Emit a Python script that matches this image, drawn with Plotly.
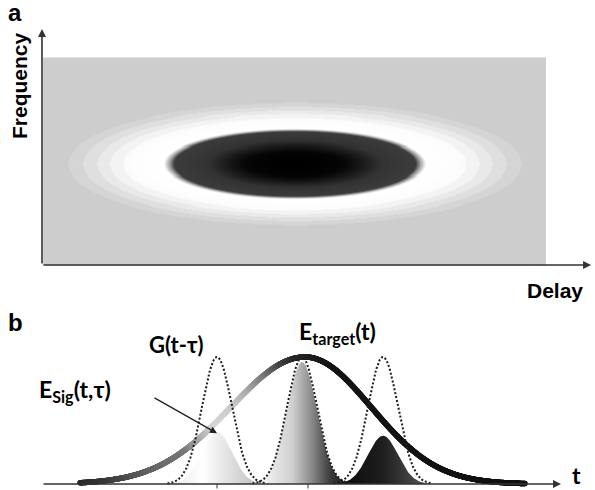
import numpy as np
import plotly.graph_objects as go

# ---------------- panel a: FROG-type spectrogram ----------------
delay = np.arange(-250, 251, 2)          # delay axis (arb. units)
freq = np.arange(-100, 101, 1)           # frequency axis (arb. units)
trace_center = (0.0, -2.0)               # (delay, frequency) of the trace maximum
trace_semi_axes = (124.0, 32.4)          # 1/e widths along delay and frequency

# ---------------- panel b: gating of the target field ----------------
target_center = 0.0
target_sigma = (74.0, 66.0)              # leading / trailing widths of E_target
gate_delays = [-88.0, -3.0, 78.0]        # positions tau of the gate G(t - tau)
gate_sigma = 15.0
sig_peaks = [0.41, 0.96, 0.38]           # peak amplitude of E_sig at each tau
tick_t = [-88.0, 3.0]

# grey level of the E_target trace along t
shade_t = [-225, -195, -155, -120, -105, -90, -70, -55, -40, -25, -10, 25, 220]
shade_gray = [40, 60, 100, 120, 170, 215, 200, 165, 120, 70, 40, 22, 18]

sig_fill_scales = [
    [[0, "#e6e6e6"], [0.35, "#ffffff"], [1, "#b8b8b8"]],
    [[0, "#ffffff"], [0.4, "#cfcfcf"], [0.6, "#8a8a8a"], [0.8, "#3a3a3a"], [1, "#151515"]],
    [[0, "#080808"], [0.5, "#1e1e1e"], [1, "#5c5c5c"]],
]

# ---------- computed fields ----------
D, F = np.meshgrid(delay, freq)
r2 = ((D - trace_center[0]) / trace_semi_axes[0]) ** 2 + ((F - trace_center[1]) / trace_semi_axes[1]) ** 2
intensity = np.exp(-r2)

frog_scale = [
    [0.0, "#cdcdcd"], [0.036, "#cdcdcd"],
    [0.036, "#d5d5d5"], [0.055, "#d5d5d5"],
    [0.055, "#dfdfdf"], [0.08, "#dfdfdf"],
    [0.08, "#e9e9e9"], [0.11, "#e9e9e9"],
    [0.11, "#f3f3f3"], [0.15, "#f3f3f3"],
    [0.15, "#fbfbfb"], [0.19, "#fdfdfd"],
    [0.33, "#ffffff"], [0.365, "#9a9a9a"], [0.39, "#3c3c3c"],
    [0.61, "#333333"], [0.86, "#050505"], [1.0, "#000000"],
]


def target(tt):
    s = np.where(tt < target_center, target_sigma[0], target_sigma[1])
    return np.exp(-((tt - target_center) ** 2) / (2 * s ** 2))


def gate(tt, tau):
    return np.exp(-((tt - tau) ** 2) / (2 * gate_sigma ** 2))


fig = go.Figure()

fig.add_trace(go.Heatmap(
    z=intensity, x=delay, y=freq, colorscale=frog_scale, zmin=0, zmax=1,
    zsmooth="best", showscale=False, hoverinfo="skip", xaxis="x", yaxis="y",
))

# E_sig(t, tau): gated pieces of the target field
for tau, pk, cs in zip(gate_delays, sig_peaks, sig_fill_scales):
    ts = np.linspace(tau - 3.2 * gate_sigma, tau + 3.2 * gate_sigma, 200)
    fig.add_trace(go.Scatter(
        x=ts, y=pk * gate(ts, tau), mode="lines", fill="tozeroy",
        line=dict(width=0, color="rgba(0,0,0,0)"),
        fillgradient=dict(type="horizontal", colorscale=cs),
        xaxis="x2", yaxis="y2", hoverinfo="skip", showlegend=False,
    ))

# E_target(t) drawn as a thick trace with varying grey
t = np.linspace(-225, 220, 1400)
g = np.interp(t, shade_t, shade_gray)
cols = [f"rgb({int(v)},{int(v)},{int(v)})" for v in g]
fig.add_trace(go.Scatter(
    x=t, y=target(t), mode="markers",
    marker=dict(size=5.5, color=cols, line=dict(width=0)),
    xaxis="x2", yaxis="y2", hoverinfo="skip", showlegend=False,
))

# gate pulses G(t - tau)
for tau in gate_delays:
    ts = np.linspace(tau - 3.3 * gate_sigma, tau + 3.3 * gate_sigma, 300)
    fig.add_trace(go.Scatter(
        x=ts, y=gate(ts, tau), mode="lines",
        line=dict(color="#1e1e1e", width=2, dash="2px,2px"),
        xaxis="x2", yaxis="y2", hoverinfo="skip", showlegend=False,
    ))

axis_off = dict(visible=False, showgrid=False, zeroline=False)
fig.update_layout(
    width=595, height=490,
    margin=dict(l=0, r=0, t=0, b=0),
    paper_bgcolor="white", plot_bgcolor="white",
    showlegend=False,
    xaxis=dict(domain=[0, 1], range=[-293.9, 299.9], **axis_off),
    yaxis=dict(domain=[0.4388, 1.0], range=[-109.66, 156.04], **axis_off),
    xaxis2=dict(domain=[0, 1], range=[-305, 290], anchor="y2", **axis_off),
    yaxis2=dict(domain=[0, 0.3878], range=[-0.0472, 1.4488], anchor="x2", **axis_off),
)

arrow = dict(showarrow=True, arrowhead=2, arrowsize=1, arrowwidth=1.6,
             arrowcolor="#333333", text="")
annotations = [
    # panel a axes
    dict(x=-252, y=128, ax=-252, ay=-100, xref="x", yref="y", axref="x", ayref="y", **arrow),
    dict(x=296, y=-100, ax=-252, ay=-100, xref="x", yref="y", axref="x", ayref="y", **arrow),
    # panel b time axis
    dict(x=256, y=0, ax=-263, ay=0, xref="x2", yref="y2", axref="x2", ayref="y2", **arrow),
    # pointer to E_sig
    dict(x=-88, y=0.40, ax=-152, ay=0.685, xref="x2", yref="y2", axref="x2", ayref="y2",
         showarrow=True, arrowhead=2, arrowsize=1, arrowwidth=1.4, arrowcolor="#222222", text=""),
]

bold_a = dict(family="Liberation Sans, Arial, sans-serif", color="black")
bold_b = dict(family="Lato, Open Sans, sans-serif", color="black")
labels = [
    dict(text="<b>a</b>", x=15 / 595, y=1 - 13 / 490, font=dict(size=24, **bold_a)),
    dict(text="<b>Frequency</b>", x=19 / 595, y=1 - 86 / 490, textangle=-90, font=dict(size=21, **bold_a)),
    dict(text="<b>Delay</b>", x=555 / 595, y=1 - 290 / 490, font=dict(size=21, **bold_a)),
    dict(text="<b>b</b>", x=15 / 595, y=1 - 322 / 490, font=dict(size=24, **bold_a)),
    dict(text="<b>G(t-τ)</b>", x=176 / 595, y=1 - 344 / 490, font=dict(size=22, **bold_b)),
    dict(text="<b>E<sub>target</sub>(t)</b>", x=337 / 595, y=1 - 332 / 490, font=dict(size=23, **bold_b)),
    dict(text="<b>E<sub>Sig</sub>(t,τ)</b>", x=75 / 595, y=1 - 390 / 490, font=dict(size=23, **bold_b)),
]
for lab in labels:
    annotations.append(dict(xref="paper", yref="paper", showarrow=False,
                            xanchor="center", yanchor="middle", **lab))
# time-axis label, anchored to the lower edge
annotations.append(dict(text="<b>t</b>", x=576 / 595, y=0.0, xref="paper", yref="paper",
                        showarrow=False, xanchor="center", yanchor="bottom", borderpad=0,
                        font=dict(size=23, **bold_b)))
fig.update_layout(annotations=annotations)

for tk in tick_t:
    fig.add_shape(type="line", x0=tk, x1=tk, y0=-0.035, y1=0.0,
                  xref="x2", yref="y2", line=dict(color="#333333", width=1))

fig.write_html("out.html")
